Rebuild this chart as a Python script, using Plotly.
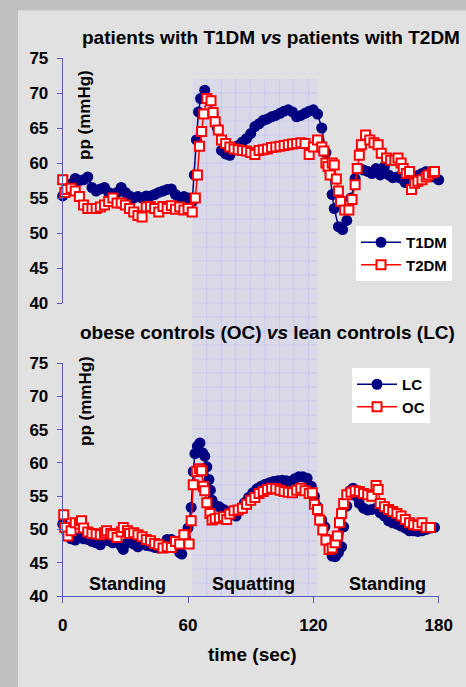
import plotly.graph_objects as go

# ---------------- data ----------------
t1dm_t = [0, 2, 4, 6, 8, 10, 12, 14, 16, 18, 20, 22, 24, 26, 28, 30, 32, 34, 36, 38, 40, 42, 44, 46, 48, 50,
          52, 54, 56, 58, 60, 62, 63, 64, 65, 66, 68, 70, 72, 74, 76, 78, 80, 82, 84, 86, 88, 90, 92, 94, 96,
          98, 100, 102, 104, 106, 108, 110, 112, 114, 116, 118, 120, 122, 124, 126, 128, 129, 130, 132, 134,
          136, 138, 140, 142, 144, 146, 148, 150, 152, 154, 156, 158, 160, 162, 164, 166, 168, 170, 172, 174,
          176, 178, 180, 182, 185]
t1dm_v = [55.3, 56.0, 57.0, 57.8, 57.5, 57.6, 58.0, 56.5, 56.0, 56.3, 56.5, 55.8, 55.5, 55.8, 56.5, 55.8,
          55.3, 55.0, 55.2, 55.0, 55.3, 55.3, 55.5, 55.8, 56.0, 56.2, 56.3, 55.5, 55.0, 55.2, 55.0, 54.5,
          58.3, 63.3, 67.3, 69.2, 70.4, 69.0, 67.0, 65.0, 61.8, 61.3, 61.1, 62.0, 62.5, 63.0, 63.5, 64.2,
          65.2, 65.6, 66.1, 66.3, 66.6, 66.8, 67.1, 67.4, 67.6, 67.3, 66.6, 66.8, 67.1, 67.4, 67.6, 67.0,
          65.0, 61.5, 58.5, 55.5, 53.5, 50.9, 50.5, 51.8, 55.0, 57.8, 59.2, 59.0, 58.8, 58.5, 59.2, 58.3,
          59.5, 58.3, 57.9, 58.0, 57.8, 57.2, 57.5, 58.0, 58.2, 58.5, 58.8, 58.5, 58.0, 57.6, 57.5, 57.1]

t2dm_t = [0, 1, 2, 4, 6, 8, 10, 12, 14, 16, 18, 20, 22, 24, 26, 28, 30, 32, 34, 36, 38, 40, 42, 44, 46, 48,
          50, 52, 54, 56, 58, 60, 62, 63.5, 64.5, 65.5, 66.5, 67.5, 69, 71, 72, 73, 74.5, 76, 78, 80, 82, 84,
          86, 88, 90, 92, 94, 96, 98, 100, 102, 104, 106, 108, 110, 112, 114, 116, 118, 120, 122, 124, 125,
          126, 127, 128, 129, 130, 131, 132, 133, 135, 137, 138.5, 140, 141, 142, 143, 145, 147, 149, 151,
          152.5, 155, 157, 159, 160.5, 162, 163, 164.5, 166, 167, 168.5, 170, 172, 174, 175, 177, 178,
          180.5, 183.5]
t2dm_v = [57.6, 55.8, 56.2, 56.4, 56.0, 55.2, 54.0, 53.5, 53.5, 53.5, 53.7, 54.0, 54.5, 55.0, 54.3, 54.3,
          54.0, 53.5, 53.0, 52.5, 52.3, 53.7, 53.8, 53.5, 53.0, 53.8, 53.5, 53.9, 53.4, 53.7, 53.3, 53.5,
          53.0, 55.0, 58.3, 62.4, 64.5, 67.0, 69.2, 68.9, 67.2, 65.9, 64.7, 63.3, 62.8, 62.3, 62.0, 61.9,
          61.8, 61.7, 61.5, 61.2, 61.8, 61.9, 62.0, 62.2, 62.3, 62.4, 62.5, 62.6, 62.7, 62.8, 62.9, 62.8,
          61.2, 62.3, 63.3, 62.3, 61.7, 60.0, 59.5, 58.3, 60.0, 59.7, 57.7, 56.0, 54.5, 53.3, 53.3, 54.8,
          56.9, 59.2, 61.1, 62.6, 64.0, 63.3, 62.9, 62.6, 61.4, 60.7, 60.4, 60.4, 60.7, 60.0, 59.2, 58.5,
          58.8, 56.2, 57.1, 57.4, 57.6, 58.0, 58.3, 58.6, 58.8, 59.5, 59.0]

lc_t = [0, 2, 4, 6, 8, 10, 12, 14, 16, 18, 20, 22, 24, 26, 28, 29, 31, 34, 36, 38, 40, 42, 44, 46, 48, 50,
        52, 54, 56, 57, 59, 60, 61.5, 62.5, 63.3, 64.5, 65.7, 67, 68, 69, 70, 70.7, 71.5, 73, 75, 77, 79, 81,
        83, 85, 87, 89, 91, 93, 95, 97, 99, 101, 103, 105, 107, 109, 111, 113, 115, 117, 119, 120.5, 122,
        124, 125.5, 127, 128, 129, 130.5, 132, 133.5, 134.5, 136, 137.5, 139, 140.5, 142, 144, 146, 148,
        150, 152, 154, 156, 158, 160, 162, 164, 166, 168, 170, 172, 174, 176, 178]
lc_v = [50.8, 49.5, 48.6, 48.4, 48.8, 48.6, 48.5, 48.2, 48.0, 47.7, 48.5, 48.3, 48.0, 48.2, 47.5, 47.0,
        48.0, 47.8, 47.4, 47.8, 47.6, 47.5, 47.3, 47.2, 47.8, 48.5, 48.5, 47.5, 46.5, 46.3, 48.5, 50.2,
        53.3, 58.7, 61.4, 62.5, 63.0, 61.5, 61.0, 59.4, 57.5, 55.9, 54.4, 53.6, 53.4, 53.0, 52.6, 52.4,
        52.0, 53.0, 54.0, 54.8, 55.5, 56.1, 56.5, 56.8, 57.0, 57.2, 57.3, 57.4, 57.3, 57.2, 57.6, 57.9,
        57.9, 57.7, 56.5, 55.0, 53.4, 51.4, 50.4, 48.5, 47.0, 46.0, 45.9, 46.5, 47.4, 50.4, 53.5, 55.8,
        56.2, 55.0, 53.9, 53.2, 52.9, 53.0, 53.2, 52.5, 52.0, 51.3, 51.0, 50.8, 50.5, 50.2, 49.8, 49.8,
        49.7, 49.8, 50.0, 50.2, 50.3]

oc_t = [0.5, 1, 2.5, 4, 6, 8, 9, 10, 12, 14, 16, 18, 20, 21, 23, 24, 26, 28, 29, 31, 32, 34, 36, 38, 40,
        42, 44, 46, 48, 50, 52, 54, 56, 58, 60.5, 61.5, 62.5, 64, 65.5, 66.5, 67.3, 68, 69, 70.5, 71.5, 73,
        75, 77, 78.5, 80, 82, 84, 86, 88, 90, 92, 94, 96, 98, 100, 102, 104, 106, 108, 110, 112, 114, 116,
        118, 119.5, 120.5, 122, 123, 124.5, 126, 127.5, 129, 130.5, 131.5, 132.5, 133.5, 134.5, 136, 138,
        140, 142, 144, 146, 148, 150, 151, 152, 154, 156, 158, 160, 162, 164, 166, 168, 170, 172, 174, 176]
oc_v = [52.2, 50.3, 49.0, 49.8, 51.0, 50.8, 51.3, 50.2, 49.6, 49.4, 49.3, 49.2, 49.5, 49.8, 49.4, 49.2,
        48.8, 49.6, 50.3, 49.8, 49.4, 49.5, 49.2, 48.9, 48.5, 48.3, 47.9, 47.7, 47.2, 47.4, 47.3, 48.2,
        47.8, 49.2, 47.8, 51.3, 56.7, 58.7, 59.1, 58.8, 56.5, 55.8, 54.0, 52.4, 51.4, 51.6, 51.7, 51.9,
        51.5, 52.3, 52.8, 52.9, 53.2, 53.8, 54.4, 54.8, 55.4, 55.7, 56.0, 56.2, 56.1, 55.9, 55.7, 55.6,
        55.5, 55.9, 56.2, 55.8, 55.4, 55.5, 53.8, 53.0, 51.4, 49.9, 48.4, 47.0, 47.2, 48.0, 49.0, 51.0,
        52.4, 53.9, 55.2, 55.6, 55.8, 55.7, 55.4, 55.2, 55.0, 56.6, 56.0, 53.9, 53.4, 53.0, 52.7, 52.4,
        52.0, 51.5, 51.0, 50.7, 50.6, 51.0, 50.3, 50.3]

x_ticks = [0, 60, 120, 180]
y_ticks = [40, 45, 50, 55, 60, 65, 70, 75]
squat_start, squat_end = 62, 122
phase_labels = ["Standing", "Squatting", "Standing"]
phase_pos = [31, 91.5, 155.5]

# ---------------- styling ----------------
W, H = 466, 687
FONT = "Liberation Sans, Arial, sans-serif"
NAVY = "#000080"
RED = "#ff0000"
AXC = "#5a5ab8"

def px_x(p):
    return p / W

def px_y(p):
    return (H - p) / H

x_dom = [px_x(62.7), px_x(438.7)]
top_dom = [px_y(303), px_y(58)]
bot_dom = [px_y(596), px_y(363)]

fig = go.Figure()

def add_pair(tc, vc, ts, vs, names, xa, ya, leg):
    fig.add_trace(go.Scatter(
        x=tc, y=vc, name=names[0], mode="lines+markers", xaxis=xa, yaxis=ya,
        line=dict(color=NAVY, width=1.5),
        marker=dict(symbol="circle", size=11, color=NAVY),
        cliponaxis=False, legend=leg, legendgroup=names[0]))
    fig.add_trace(go.Scatter(
        x=ts, y=vs, name=names[1], mode="lines+markers", xaxis=xa, yaxis=ya,
        line=dict(color=RED, width=1.5),
        marker=dict(symbol="square", size=9, color="white", line=dict(color=RED, width=2)),
        cliponaxis=False, legend=leg, legendgroup=names[1]))

add_pair(t1dm_t, t1dm_v, t2dm_t, t2dm_v, ["T1DM", "T2DM"], "x2", "y", "legend")
add_pair(lc_t, lc_v, oc_t, oc_v, ["LC", "OC"], "x", "y2", "legend2")

shapes = []
# inner light panel
shapes.append(dict(type="rect", xref="paper", yref="paper", x0=px_x(18), x1=1, y0=0, y1=px_y(10.5),
                   fillcolor="#e1e1e1", line=dict(width=0), layer="below"))
# squatting shaded band
shapes.append(dict(type="rect", xref="x", yref="paper", x0=squat_start, x1=squat_end,
                   y0=px_y(596), y1=px_y(79), fillcolor="#d9d9e8", line=dict(width=0), layer="below"))
# faint grid inside band
gx = squat_start + 6.95
while gx < squat_end:
    shapes.append(dict(type="line", xref="x", yref="paper", x0=gx, x1=gx, y0=px_y(596), y1=px_y(79),
                       line=dict(color="rgba(180,180,245,0.45)", width=1), layer="below"))
    gx += 6.95
gy = 79 + 14
while gy < 596:
    shapes.append(dict(type="line", xref="x", yref="paper", x0=squat_start, x1=squat_end,
                       y0=px_y(gy), y1=px_y(gy),
                       line=dict(color="rgba(180,180,245,0.35)", width=1), layer="below"))
    gy += 14

def ann(text, x, y, size, xref="paper", angle=0):
    return dict(text=text, x=x, y=y, xref=xref, yref="paper", xanchor="center", yanchor="middle",
                showarrow=False, textangle=angle, font=dict(size=size, family=FONT, color="black"))

annotations = [
    ann("<b>patients with T1DM <i>vs</i> patients with T2DM</b>", px_x(271), px_y(37), 19),
    ann("<b>obese controls (OC) <i>vs</i> lean controls (LC)</b>", px_x(267.5), px_y(332), 19),
    ann("<b>pp (mmHg)</b>", px_x(85), px_y(115), 17, angle=-90),
    ann("<b>pp (mmHg)</b>", px_x(85), px_y(401), 17, angle=-90),
    ann("<b>time (sec)</b>", px_x(252), px_y(654), 19),
]
for lab, pos in zip(phase_labels, phase_pos):
    annotations.append(ann("<b>%s</b>" % lab, pos, px_y(584), 18, xref="x"))

tickfont = dict(size=17, family=FONT, color="black", weight="bold")
yax = dict(range=[40, 75], tickvals=y_ticks, showline=True, linecolor=AXC, linewidth=1,
           ticks="outside", ticklen=5, tickcolor=AXC, tickfont=tickfont, showgrid=False,
           zeroline=False, ticklabelstandoff=5, fixedrange=True)

legend_common = dict(bgcolor="white", borderwidth=0, xanchor="left", yanchor="top",
                     font=dict(size=15, family=FONT, color="black", weight="bold"),
                     itemwidth=40, tracegroupgap=13, traceorder="normal")

fig.update_layout(
    width=W, height=H, autosize=False,
    margin=dict(l=0, r=0, t=0, b=0, pad=0, autoexpand=False),
    paper_bgcolor="#c0c0c0", plot_bgcolor="rgba(0,0,0,0)",
    font=dict(family=FONT, color="black"),
    xaxis=dict(domain=x_dom, range=[0, 180], tickvals=x_ticks, anchor="y2", showline=True,
               linecolor=AXC, linewidth=1, ticks="outside", ticklen=6, tickcolor=AXC,
               tickfont=tickfont, showgrid=False, zeroline=False, ticklabelstandoff=8),
    xaxis2=dict(domain=x_dom, range=[0, 180], anchor="y", visible=False, matches="x"),
    yaxis=dict(domain=top_dom, anchor="x2", **yax),
    yaxis2=dict(domain=bot_dom, anchor="x", **yax),
    legend=dict(x=px_x(356), y=px_y(226), **legend_common),
    legend2=dict(x=px_x(352), y=px_y(368), **legend_common),
    shapes=shapes,
    annotations=annotations,
    showlegend=True,
)

fig.write_html("out.html", config={"displayModeBar": False},
               post_script="document.body.style.margin='0';document.body.style.overflow='hidden';")
